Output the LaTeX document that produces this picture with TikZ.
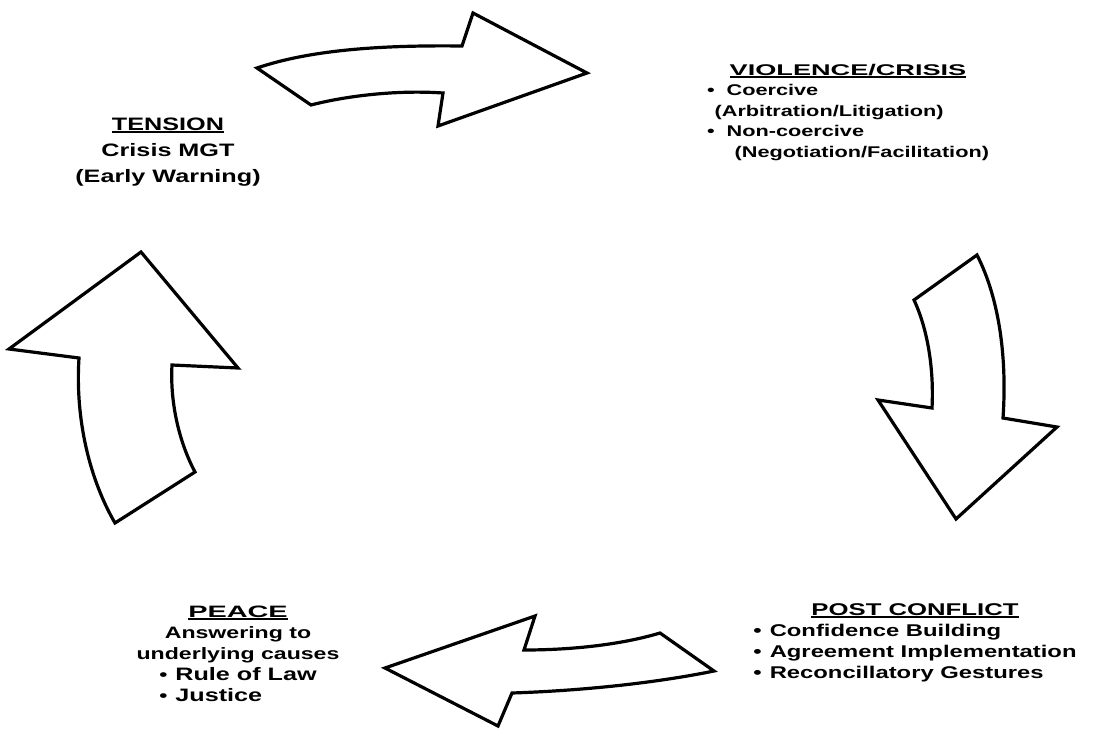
\documentclass[tikz,border=0pt]{standalone}
\usepackage{fontspec}
\setmainfont{Liberation Sans}[FakeStretch=1.4]
\usepackage{graphicx}
\usepackage{tikz}
\tikzset{every path/.style={thick}}
\tikzset{bigarrow/.style={draw, line width=3.2pt, fill=white},
  stage/.style={inner sep=0pt, anchor=base}}
\newcommand{\stagehead}[2][1]{\setbox0=\hbox{\scalebox{#1}[1]{#2}}\rlap{\rule[-3pt]{\wd0}{2pt}}\box0}

\begin{document}
\begin{tikzpicture}[x=1pt,y=-1pt]
\useasboundingbox (0,0) rectangle (1094,736);
\draw[bigarrow] (311,105) .. controls (350,95) and (400,90) .. (443,93) -- (438,126) -- (587,73) -- (473,13) -- (462,46) .. controls (380,45) and (310,50) .. (257,68) -- cycle;
\draw[bigarrow] (914,300) .. controls (928,330) and (934,370) .. (932,408) -- (878,400) -- (956,519) -- (1057,427) -- (1003,418) .. controls (1007,360) and (1000,300) .. (977,255) -- cycle;
\draw[bigarrow] (524,650) .. controls (570,650) and (620,645) .. (660,633) -- (714,671) .. controls (670,680) and (600,690) .. (512,693) -- (498,726) -- (385,668) -- (535,616) -- cycle;
\draw[bigarrow] (79,358) .. controls (75,420) and (90,480) .. (115,523) -- (195,472) .. controls (178,440) and (170,400) .. (172,365) -- (238,368) -- (141,252) -- (9,349) -- cycle;
\node[stage, font=\bfseries\fontsize{18}{26}\selectfont] (tension) at (168,130) {\begin{tabular}[t]{@{}c@{}}\stagehead{TENSION}\\ Crisis MGT\\ (Early Warning)\end{tabular}};
\node[stage, font=\bfseries\fontsize{15.5}{20.5}\selectfont] (violence) at (848,75) {\begin{tabular}[t]{@{}c@{}}\stagehead[1.25]{VIOLENCE/CRISIS}\\ \begin{tabular}[t]{@{}l@{\hspace{12pt}}l@{}}\textbullet & Coercive\\ & \hspace{-12pt}(Arbitration/Litigation)\\ \textbullet & Non-coercive\\ & \hspace{8pt}(Negotiation/Facilitation)\end{tabular}\end{tabular}};
\node[stage, font=\bfseries\fontsize{17}{21}\selectfont] (post) at (915,615) {\begin{tabular}[t]{@{}c@{}}\stagehead[1.08]{POST CONFLICT}\\ \begin{tabular}[t]{@{}l@{\hspace{8pt}}l@{}}\textbullet & Confidence Building\\ \textbullet & Agreement Implementation\\ \textbullet & Reconcillatory Gestures\end{tabular}\end{tabular}};
\node[stage, font=\bfseries\fontsize{16.5}{21}\selectfont] (peace) at (238,617) {\begin{tabular}[t]{@{}c@{}}\stagehead[1.25]{PEACE}\\ Answering to\\ underlying causes\\ \begin{tabular}[t]{@{}l@{\hspace{8pt}}l@{}}\textbullet & \fontsize{18}{21}\selectfont Rule of Law\\ \textbullet & \fontsize{18}{21}\selectfont Justice\end{tabular}\end{tabular}};
\end{tikzpicture}
\end{document}
